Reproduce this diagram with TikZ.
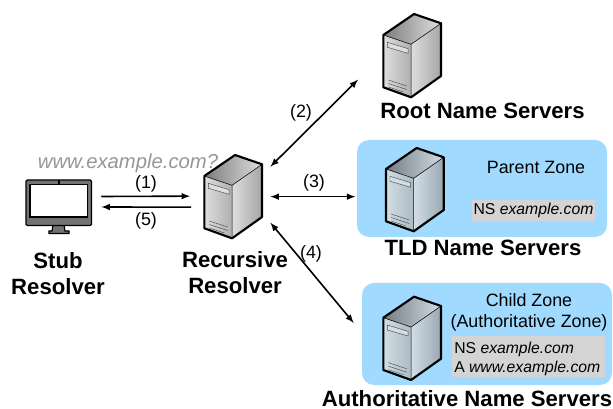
\documentclass[tikz,border=0pt]{standalone}
\usepackage{fontspec}
\setmainfont{Liberation Sans}
\usetikzlibrary{arrows,positioning}
\usetikzlibrary{calc}
\definecolor{zoneblue}{RGB}{160,218,255}
\definecolor{recgray}{RGB}{212,212,212}
\definecolor{monitorgray}{RGB}{115,115,115}
\definecolor{querygray}{RGB}{150,150,150}
\definecolor{srvlight}{RGB}{222,222,222}
\definecolor{srvmid}{RGB}{175,175,175}
\definecolor{srvlow}{RGB}{165,165,165}
\definecolor{srvdark}{RGB}{125,125,125}
\definecolor{tintlight}{RGB}{210,221,229}
\definecolor{tintmid}{RGB}{172,186,195}
\definecolor{tintlow}{RGB}{152,168,178}
\definecolor{tintdark}{RGB}{115,124,131}
\tikzset{
  pics/server/.style n args={4}{code={
    \begin{scope}[shift={(-28.85,-20.65)}]
    \shade[left color=#1,right color=#2] (0,0) -- (27.7,9.3) -- (27.7,62.3) -- (0,52.3) -- cycle;
    \shade[left color=#1,right color=#3] (27.7,9.3) -- (57.7,-11.7) -- (57.7,41) -- (27.7,62.3) -- cycle;
    \shade[left color=#4,right color=#1] (0,0) -- (30.7,-21) -- (57.7,-11.7) -- (27.7,9.3) -- cycle;
    \draw[line width=1.6pt,line join=round] (0,0) -- (30.7,-21) -- (57.7,-11.7) -- (57.7,41) -- (27.7,62.3) -- (0,52.3) -- cycle;
    \draw[line width=0.4pt] (0,0) -- (27.7,9.3) -- (57.7,-11.7) (27.7,9.3) -- (27.7,62.3);
    \draw[line width=0.35pt,black!70,fill=#1] (4,7.3) -- (24.7,13.7) -- (24.7,18.3) -- (4,12.3) -- cycle;
    \draw[line width=0.35pt,black!70] (5,45) -- (23.3,51) (5,48.5) -- (23.3,54.5) (5,52) -- (20,57);
    \end{scope}
  }},
  serverbox/.style={minimum width=43.3pt,minimum height=62.5pt,inner sep=0pt},
  zonebox/.style={fill=zoneblue,rounded corners=9pt,inner sep=0pt},
  recbox/.style={fill=recgray,inner sep=0pt},
  title/.style={font=\fontsize{16.6}{19.5}\selectfont\bfseries,align=center,inner sep=0pt},
  plain/.style={font=\fontsize{13.4}{15.8}\selectfont,inner sep=0pt},
  record/.style={font=\fontsize{11.8}{14}\selectfont,inner sep=0pt},
  link/.style={line width=1.2pt,>=latex}
}
\begin{document}
\begin{tikzpicture}[x=0.75pt,y=-0.75pt]
\useasboundingbox (0,0) rectangle (613,409);
% zones
\node[zonebox,minimum width=187.5pt,minimum height=72.75pt] (tldzone) at (482,188.5) {};
\node[zonebox,minimum width=187.5pt,minimum height=76.5pt] (authzone) at (487,334) {};
\node[recbox,minimum width=92.25pt,minimum height=16.1pt] (tldrec) at (533.5,210.7) {};
\node[recbox,minimum width=114.75pt,minimum height=30.75pt] (authrec) at (528.5,356.5) {};
% servers
\node[serverbox] (root) at (412.2,55.65) {};
\node[serverbox] (recursive) at (233.2,196.65) {};
\node[serverbox] (tld) at (414.85,189.65) {};
\node[serverbox] (auth) at (412.2,338.35) {};
\pic at (root.center) {server={srvlight}{srvmid}{srvlow}{srvdark}};
\pic at (recursive.center) {server={srvlight}{srvmid}{srvlow}{srvdark}};
\pic at (tld.center) {server={tintlight}{tintmid}{tintlow}{tintdark}};
\pic at (auth.center) {server={tintlight}{tintmid}{tintlow}{tintdark}};
% monitor
\node[minimum width=49.1pt,minimum height=39.75pt,inner sep=0pt] (stub) at (58.75,206.5) {};
\draw[fill=monitorgray,line width=0.9pt] (53,225) -- (64,225) -- (65,231) -- (69,231) -- (69,233.5) -- (49,233.5) -- (49,231) -- (52,231) -- cycle;
\draw[fill=monitorgray,line width=0.9pt,rounded corners=1pt] (26,180) rectangle (91.5,225.5);
\draw[fill=white,line width=0.9pt] (30,184.5) rectangle (87.5,217);
\draw[line width=1.2pt] (58.75,180) -- (58.75,184);
% links
\draw[link,->] ([shift={(9.5,-10)}]stub.east) -- ([shift={(-14,-0.5)}]recursive.west);
\draw[link,->] ([shift={(-13,10.5)}]recursive.west) -- ([shift={(9.5,0.5)}]stub.east);
\draw[link,<->] ([shift={(8,12)}]recursive.north east) -- ([shift={(-25,-18)}]root.south west);
\draw[link,<->,shorten <=6pt,shorten >=1pt] (recursive.east) -- (tldzone.west |- recursive.east);
\draw[link,<->] ([shift={(8,-16)}]recursive.south east) -- ([shift={(-8,-11)}]authzone.west);
% labels
\node[title] (stublabel) at (58,274) {Stub\\Resolver};
\node[title] (reclabel) at (235,273) {Recursive\\Resolver};
\node[title] (rootlabel) at (482.5,111) {Root Name Servers};
\node[title] (tldlabel) at (483,248) {TLD Name Servers};
\node[title] (authlabel) at (467,398.5) {Authoritative Name Servers};
\node[plain,font=\fontsize{15.2}{18}\selectfont\itshape,text=querygray] (query) at (128,163) {www.example.com?};
\node[plain] (stepa) at (146,184) {(1)};
\node[plain] (stepb) at (146,221) {(5)};
\node[plain] (stepc) at (301,113) {(2)};
\node[plain] (stepd) at (314,183) {(3)};
\node[plain] (stepe) at (311,254) {(4)};
\node[plain] (parentzone) at (536,167) {Parent Zone};
\node[plain] (childzone) at (529,313) {\begin{tabular}{@{}c@{}}Child Zone\\(Authoritative Zone)\end{tabular}};
\node[record,anchor=center] (tldns) at (tldrec.center) {NS \textit{example.com}};
\node[record,anchor=west] (authns) at (454,349) {NS \textit{example.com}};
\node[record,anchor=west] (autha) at (454,368) {A \textit{www.example.com}};
\end{tikzpicture}
\end{document}
